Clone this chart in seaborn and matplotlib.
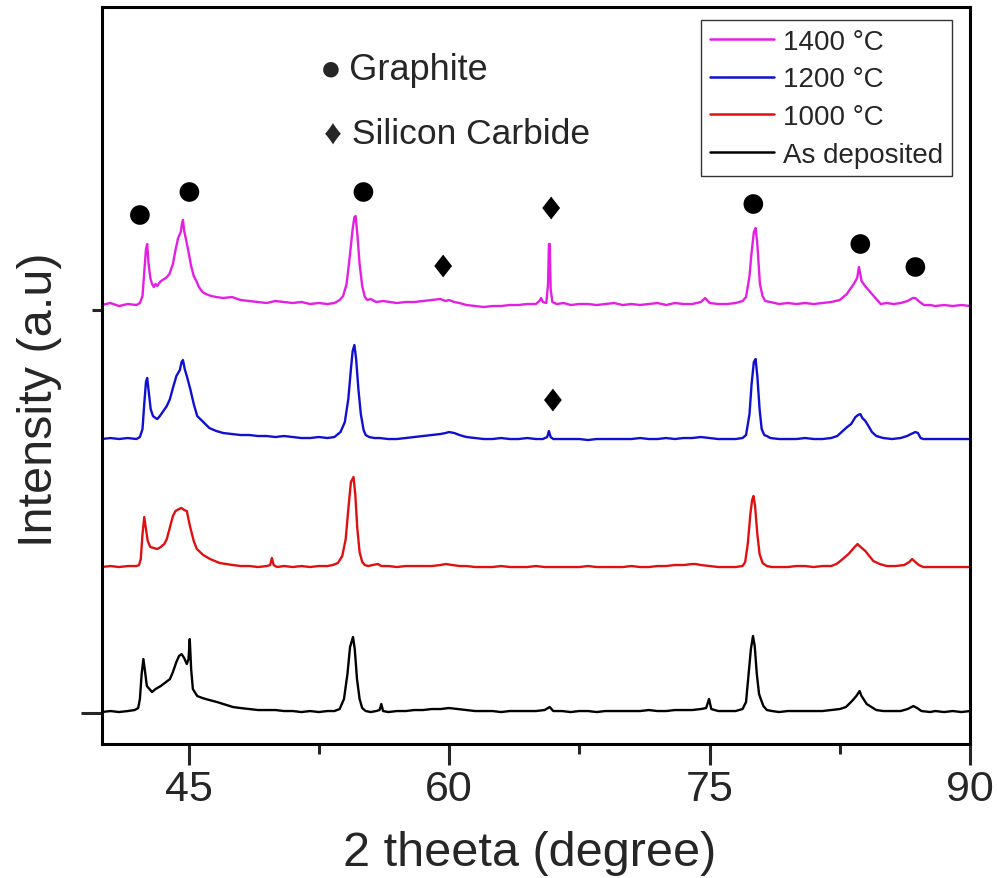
import matplotlib
matplotlib.use("Agg")
import matplotlib.pyplot as plt
import seaborn as sns
import pandas as pd

# ---- data (2theta in degree, intensity in a.u., stacked as in the figure) ----
series_labels = ["1400 °C", "1200 °C", "1000 °C", "As deposited"]
series_colors = ["#E41FE4", "#1010D0", "#E01010", "#000000"]

pink_points = [
    (40.0, 439), (40.5, 441), (41.0, 438), (41.5, 440), (42.0, 439), (42.2, 441), (42.35, 448),
    (42.45, 472), (42.55, 495), (42.62, 500), (42.7, 480), (42.8, 466), (42.9, 460), (43.0, 457),
    (43.1, 460), (43.2, 458), (43.35, 462), (43.5, 464), (43.7, 466), (43.9, 470), (44.1, 480),
    (44.25, 494), (44.4, 506), (44.55, 512), (44.62, 520), (44.68, 524), (44.75, 513), (44.85, 505),
    (45.0, 492), (45.15, 478), (45.3, 468), (45.45, 463), (45.6, 457), (45.8, 452), (46.0, 450),
    (46.3, 448), (46.6, 447), (47.0, 446), (47.5, 447), (48.0, 444), (48.5, 443), (49.0, 442),
    (49.5, 441), (50.0, 443), (50.5, 442), (51.0, 441), (51.5, 442), (52.0, 440), (52.5, 441),
    (53.0, 440), (53.4, 441), (53.7, 444), (53.9, 448), (54.1, 460), (54.3, 490), (54.45, 515),
    (54.55, 527), (54.62, 528), (54.72, 510), (54.85, 480), (55.0, 458), (55.15, 447), (55.3, 444),
    (55.5, 445), (55.8, 442), (56.2, 443), (56.6, 442), (57.0, 441), (57.5, 442), (58.0, 442),
    (58.5, 443), (59.0, 444), (59.5, 445), (59.8, 443), (60.0, 444), (60.3, 442), (60.6, 441),
    (61.0, 439), (61.5, 438), (62.0, 437), (62.5, 438), (63.0, 438), (63.5, 439), (64.0, 439),
    (64.5, 440), (65.0, 440), (65.2, 443), (65.3, 446), (65.4, 442), (65.6, 441), (65.7, 460),
    (65.75, 500), (65.8, 500), (65.85, 455), (65.95, 442), (66.2, 440), (66.6, 441), (67.0, 439),
    (67.5, 440), (68.0, 440), (68.5, 439), (69.0, 440), (69.5, 441), (70.0, 439), (70.5, 440),
    (71.0, 439), (71.5, 440), (72.0, 441), (72.5, 439), (73.0, 441), (73.5, 440), (74.0, 440),
    (74.5, 442), (74.75, 446), (75.0, 441), (75.5, 440), (76.0, 440), (76.5, 441), (76.9, 443),
    (77.1, 447), (77.3, 468), (77.4, 488), (77.55, 512), (77.65, 516), (77.75, 500), (77.9, 460),
    (78.05, 448), (78.2, 443), (78.5, 442), (79.0, 440), (79.5, 441), (80.0, 440), (80.5, 441),
    (81.0, 440), (81.5, 441), (82.0, 442), (82.5, 444), (82.9, 450), (83.1, 455), (83.3, 460),
    (83.5, 466), (83.6, 477), (83.68, 470), (83.75, 463), (83.95, 458), (84.25, 452), (84.6, 445),
    (84.85, 440), (85.2, 441), (85.6, 440), (86.0, 441), (86.4, 443), (86.7, 446), (86.85, 446),
    (87.1, 442), (87.35, 439), (87.7, 439), (88.0, 438), (88.5, 439), (89.0, 438), (89.5, 439),
    (90.0, 438),
]

blue_points = [
    (40.0, 305), (40.5, 306), (41.0, 305), (41.5, 306), (42.0, 305), (42.2, 307), (42.35, 315),
    (42.45, 340), (42.55, 362), (42.62, 366), (42.72, 350), (42.82, 335), (42.95, 328), (43.1, 326),
    (43.2, 325), (43.35, 328), (43.55, 333), (43.75, 338), (43.93, 345), (44.1, 356), (44.3, 368),
    (44.5, 374), (44.6, 382), (44.68, 384), (44.78, 375), (44.9, 368), (45.1, 355), (45.3, 340),
    (45.5, 328), (45.85, 322), (46.2, 316), (46.6, 313), (47.0, 311), (47.5, 310), (48.0, 309),
    (48.5, 309), (49.0, 308), (49.5, 308), (50.0, 307), (50.5, 308), (51.0, 307), (51.5, 306),
    (52.0, 306), (52.5, 307), (53.0, 306), (53.4, 307), (53.75, 312), (54.0, 322), (54.2, 345),
    (54.35, 375), (54.45, 393), (54.55, 399), (54.65, 385), (54.78, 355), (54.92, 330), (55.08, 314),
    (55.2, 309), (55.4, 307), (55.7, 306), (56.0, 306), (56.5, 305), (57.0, 305), (57.5, 306),
    (58.0, 307), (58.5, 308), (59.0, 309), (59.5, 310), (59.8, 311), (60.0, 312), (60.3, 311),
    (60.6, 309), (61.0, 307), (61.5, 306), (62.0, 305), (62.5, 305), (63.0, 306), (63.5, 305),
    (64.0, 305), (64.5, 306), (65.0, 305), (65.4, 305), (65.65, 307), (65.75, 313), (65.85, 307),
    (66.0, 305), (66.5, 305), (67.0, 305), (67.5, 305), (68.0, 304), (68.5, 305), (69.0, 305),
    (69.5, 305), (70.0, 305), (70.5, 305), (71.0, 306), (71.5, 305), (72.0, 305), (72.5, 306),
    (73.0, 305), (73.5, 306), (74.0, 306), (74.5, 307), (75.0, 306), (75.5, 305), (76.0, 305),
    (76.5, 305), (76.9, 306), (77.1, 309), (77.3, 330), (77.42, 360), (77.55, 382), (77.65, 385),
    (77.75, 368), (77.88, 335), (78.0, 315), (78.15, 309), (78.3, 308), (78.5, 306), (79.0, 305),
    (79.5, 305), (80.0, 305), (80.5, 306), (81.0, 305), (81.5, 305), (82.0, 306), (82.35, 308),
    (82.6, 312), (82.92, 317), (83.15, 320), (83.4, 327), (83.55, 329), (83.68, 330), (83.8, 326),
    (83.97, 323), (84.15, 318), (84.35, 312), (84.6, 308), (85.0, 306), (85.5, 305), (86.0, 306),
    (86.37, 308), (86.6, 310), (86.85, 312), (87.0, 311), (87.15, 306), (87.31, 305), (87.7, 305),
    (88.0, 305), (88.5, 305), (89.0, 305), (89.5, 305), (90.0, 305),
]

red_points = [
    (40.0, 177), (40.5, 178), (41.0, 177), (41.5, 178), (42.0, 178), (42.15, 179), (42.25, 185),
    (42.35, 210), (42.45, 227), (42.55, 215), (42.65, 203), (42.8, 197), (43.0, 196), (43.2, 195),
    (43.4, 197), (43.6, 200), (43.75, 205), (43.95, 218), (44.1, 228), (44.25, 233), (44.45, 235),
    (44.6, 236), (44.75, 234), (44.9, 233), (45.08, 218), (45.3, 203), (45.48, 195), (45.85, 189),
    (46.24, 185), (46.8, 181), (47.55, 179), (48.0, 178), (48.5, 178), (49.0, 177), (49.5, 178),
    (49.7, 179), (49.8, 186), (49.9, 179), (50.1, 177), (50.5, 178), (51.0, 177), (51.5, 178),
    (52.0, 177), (52.5, 178), (53.0, 178), (53.3, 179), (53.6, 181), (53.85, 188), (54.05, 205),
    (54.2, 235), (54.35, 262), (54.5, 267), (54.6, 250), (54.72, 215), (54.85, 192), (55.0, 182),
    (55.15, 179), (55.35, 178), (55.6, 179), (55.9, 180), (56.1, 178), (56.5, 178), (57.0, 177),
    (57.5, 178), (58.0, 178), (58.5, 178), (59.0, 178), (59.5, 179), (59.8, 180), (60.2, 179),
    (60.6, 178), (61.0, 178), (61.5, 177), (62.0, 177), (62.5, 177), (63.0, 178), (63.5, 177),
    (64.0, 177), (64.5, 177), (65.0, 178), (65.5, 177), (66.0, 177), (66.5, 177), (67.0, 177),
    (67.5, 177), (68.0, 178), (68.5, 177), (69.0, 177), (69.5, 177), (70.0, 177), (70.5, 178),
    (71.0, 177), (71.5, 177), (72.0, 178), (72.5, 178), (73.0, 179), (73.5, 179), (74.0, 180),
    (74.2, 180), (74.5, 179), (75.0, 178), (75.5, 177), (76.0, 177), (76.5, 177), (76.9, 178),
    (77.05, 182), (77.2, 200), (77.35, 230), (77.45, 244), (77.53, 248), (77.62, 238), (77.75, 210),
    (77.88, 190), (78.05, 181), (78.3, 178), (78.6, 177), (79.0, 177), (79.5, 177), (80.0, 178),
    (80.5, 178), (81.0, 177), (81.5, 178), (82.0, 178), (82.3, 180), (82.53, 183), (83.0, 190),
    (83.3, 196), (83.52, 200), (83.7, 197), (83.97, 193), (84.2, 188), (84.43, 183), (84.8, 180),
    (85.2, 178), (85.7, 178), (86.2, 179), (86.5, 182), (86.66, 185), (86.85, 182), (87.05, 179),
    (87.31, 177), (87.7, 177), (88.0, 177), (88.5, 177), (89.0, 177), (89.5, 177), (90.0, 177),
]

black_points = [
    (40.0, 32), (40.5, 33), (41.0, 32), (41.5, 33), (41.9, 34), (42.1, 36), (42.2, 45), (42.3, 70),
    (42.4, 85), (42.5, 72), (42.6, 58), (42.75, 55), (42.9, 52), (43.1, 55), (43.4, 58), (43.7, 62),
    (43.93, 65), (44.1, 72), (44.3, 82), (44.45, 88), (44.6, 90), (44.75, 86), (44.9, 80), (45.0, 85),
    (45.07, 105), (45.15, 75), (45.25, 55), (45.5, 48), (45.8, 46), (46.2, 44), (46.64, 42),
    (47.0, 40), (47.56, 37), (48.0, 36), (48.5, 35), (49.0, 34), (49.5, 34), (50.0, 34), (50.5, 33),
    (51.0, 33), (51.5, 32), (52.0, 33), (52.5, 32), (53.0, 33), (53.4, 33), (53.7, 35), (53.95, 45),
    (54.15, 70), (54.3, 97), (54.47, 107), (54.57, 95), (54.7, 65), (54.85, 45), (55.0, 36),
    (55.2, 33), (55.5, 32), (55.8, 33), (56.0, 34), (56.1, 40), (56.2, 33), (56.5, 32), (57.0, 33),
    (57.5, 33), (58.0, 34), (58.5, 34), (59.0, 35), (59.5, 35), (60.0, 36), (60.5, 35), (61.0, 34),
    (61.5, 33), (62.0, 33), (62.5, 33), (63.0, 32), (63.5, 33), (64.0, 33), (64.5, 33), (65.0, 33),
    (65.5, 34), (65.8, 37), (66.0, 33), (66.5, 33), (67.0, 32), (67.5, 33), (68.0, 33), (68.5, 32),
    (69.0, 33), (69.5, 33), (70.0, 33), (70.5, 33), (71.0, 33), (71.5, 34), (72.0, 33), (72.5, 33),
    (73.0, 34), (73.5, 34), (74.0, 34), (74.5, 35), (74.8, 36), (74.97, 45), (75.1, 35), (75.5, 33),
    (76.0, 33), (76.5, 33), (76.9, 35), (77.1, 42), (77.25, 70), (77.38, 95), (77.5, 108),
    (77.6, 98), (77.72, 70), (77.85, 50), (77.95, 45), (78.1, 38), (78.3, 34), (78.6, 33), (79.0, 32),
    (79.5, 33), (80.0, 33), (80.5, 33), (81.0, 33), (81.5, 33), (82.0, 34), (82.5, 35), (82.85, 37),
    (83.2, 43), (83.45, 48), (83.64, 53), (83.75, 48), (84.05, 40), (84.6, 34), (85.0, 33),
    (85.5, 33), (86.0, 33), (86.4, 35), (86.74, 38), (86.95, 36), (87.2, 33), (87.7, 32), (88.0, 33),
    (88.5, 32), (89.0, 33), (89.5, 32), (90.0, 33),
]

graphite_theta = [42.2, 45.05, 55.07, 77.52, 83.68, 86.85]
graphite_int = [529, 552, 552, 540, 500, 477]
sic_theta = [59.66, 65.88, 65.98]
sic_int = [478, 536, 344]

# ---- build long table ----
frames = []
for label, pts in zip(series_labels, [pink_points, blue_points, red_points, black_points]):
    frames.append(pd.DataFrame({"theta": [p[0] for p in pts],
                                "intensity": [p[1] for p in pts],
                                "sample": label}))
df = pd.concat(frames, ignore_index=True)

sns.set_style("white")
plt.rcParams["font.family"] = ["Liberation Sans", "DejaVu Sans"]

fig = plt.figure(figsize=(9.97, 8.79), dpi=100)
ax = fig.add_axes([0.102, 0.1524, 0.871, 0.8385])

sns.lineplot(data=df, x="theta", y="intensity", hue="sample", hue_order=series_labels,
             palette=series_colors, estimator=None, linewidth=1.7, ax=ax)

sns.scatterplot(x=graphite_theta, y=graphite_int, marker="o", s=200, color="black",
                edgecolor="none", legend=False, ax=ax, zorder=5)
diamond = [(0, 1), (0.78, 0), (0, -1), (-0.78, 0), (0, 1)]
sns.scatterplot(x=sic_theta, y=sic_int, marker=diamond, s=270, color="black",
                edgecolor="none", legend=False, ax=ax, zorder=5)

ax.set_xlim(40, 90)
ax.set_ylim(0, 737)

# ticks
ax.set_xticks([45, 60, 75, 90])
ax.set_xticks([52.5, 67.5, 82.5], minor=True)
ax.set_yticks([31])
ax.set_yticks([434], minor=True)
ax.set_yticklabels([])
ax.tick_params(axis="both", which="major", direction="out", length=15, width=2.2,
               bottom=True, left=True, top=False, right=False, pad=3)
ax.tick_params(axis="both", which="minor", direction="out", length=7.5, width=2.2,
               bottom=True, left=True, top=False, right=False)
for lab in ax.get_xticklabels():
    lab.set_fontsize(31)

for sp in ax.spines.values():
    sp.set_linewidth(2.2)
    sp.set_color("black")
    sp.set_visible(True)

ax.set_xlabel("2 theeta (degree)", fontsize=35, va="top")
ax.xaxis.set_label_coords(0.493, -0.116)
ax.set_ylabel("Intensity (a.u)", fontsize=35, va="bottom")
ax.yaxis.set_label_coords(-0.046, 0.469)

# annotation text
ax.text(52.55, 665, "\u25CF\u2009Graphite", fontsize=26, ha="left", va="baseline",
        family=["Liberation Sans", "DejaVu Sans"])
ax.text(52.8, 601, "\u2666 Silicon Carbide", fontsize=25.5, ha="left", va="baseline",
        family=["Liberation Sans", "DejaVu Sans"])

handles, labels = ax.get_legend_handles_labels()
leg = ax.legend(handles, labels, loc="upper right", bbox_to_anchor=(0.979, 0.982),
                borderaxespad=0, fontsize=20, frameon=True, fancybox=False,
                edgecolor="#333333", framealpha=1, handlelength=2.3, handletextpad=0.35,
                labelspacing=0.42, borderpad=0.3)
leg.get_frame().set_linewidth(1.0)
for line in leg.get_lines():
    line.set_linewidth(1.8)

fig.savefig("out.png", dpi=100)
